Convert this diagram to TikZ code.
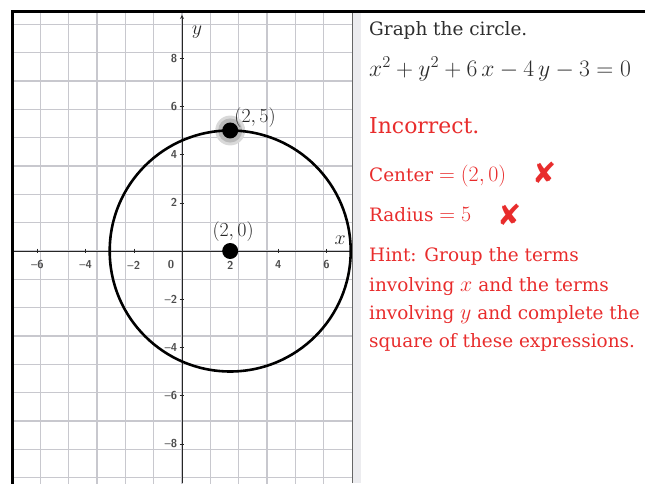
\RequirePackage{fix-cm}
\documentclass[tikz,border=0pt]{standalone}
\usepackage{fontspec}
\newfontfamily\markfont{DejaVu Sans}
\newfontfamily\panelfont{DejaVu Serif}
\usepackage{amsmath}
\newcommand\pmath[1]{{\fontsize{22}{22}\selectfont$#1$}}
\definecolor{hintred}{RGB}{232,44,44}
\definecolor{gridgray}{RGB}{200,200,206}
\definecolor{panelgray}{RGB}{236,236,239}
\definecolor{taskgray}{RGB}{45,45,45}
\tikzset{>=stealth}
\tikzset{
  gridline/.style={gridgray, line width=1.3pt},
  ticklabel/.style={font=\fontsize{11.5}{13}\sffamily\bfseries, text=black!70, inner sep=1pt},
  ptlabel/.style={font=\fontsize{20}{24}\selectfont, text=black!85, inner sep=0pt},
  dot/.style={circle, fill=black, inner sep=0pt, minimum size=16bp},
  task/.style={anchor=base west, inner sep=0pt, text=taskgray, font=\panelfont\fontsize{18.5}{22}\selectfont},
  feedback/.style={task, text=hintred},
  cross/.style={font=\fontsize{29}{32}\markfont, text=hintred, inner sep=0pt}
}

\begin{document}
\begin{tikzpicture}[x=24.1bp,y=24.1bp]
                \useasboundingbox (-7.552,-9.627) rectangle (19.212,10.415);
                % grid panel
                \fill[panelgray] (7.05,-9.627) rectangle (7.43,9.94);
                \begin{scope}
                    \clip (-7.03,-9.627) rectangle (7.05,9.94);
                    \draw[gridline] (-7,-10) grid (7.05,10);
                \end{scope}
                \draw[thin, black!60] (7.05,-9.627) -- (7.05,9.94);
                % axes
                \draw[black!85, line width=0.9pt] (-7.03,0) -- (7.05,0);
                \draw[->, black!85, line width=0.9pt] (0,-9.627) -- (0,9.8);
                \foreach \x/\lab in {-6/\textendash6,-4/\textendash4,-2/\textendash2,2/2,4/4,6/6}
                    \draw[black!85] (\x,0.1) -- (\x,-0.1)
                        node[ticklabel] (xt\x) at (\x,-0.58) {\lab};
                \foreach \y/\lab in {-8/\textendash8,-6/\textendash6,-4/\textendash4,-2/\textendash2,2/2,4/4,6/6,8/8}
                    \draw[black!85] (-0.1,\y) -- (0.1,\y)
                        node[ticklabel, anchor=east] (yt\y) at (-0.15,\y) {\lab};
                \node[ticklabel] (zero) at (-0.46,-0.58) {0};
                \node[ptlabel] (xlab) at (6.56,0.46) {$x$};
                \node[ptlabel] (ylab) at (0.62,9.09) {$y$};
                % the circle and its points
                \fill[gray!30] (2,5) circle (0.62);
                \fill[gray!55] (2,5) circle (0.5);
                \draw[line width=2.6pt] (2,0) circle (5);
                \node[dot] (top) at (2,5) {};
                \node[dot] (center) at (2,0) {};
                \node[ptlabel] (toplab) at (3.03,5.52) {$(2,5)$};
                \node[ptlabel] (centerlab) at (2.12,0.79) {$(2,0)$};
                % frame
                \draw[line width=2.6pt] (-7.03,-9.8) -- (-7.03,9.94) -- (19.4,9.94);
                % task and feedback
                \node[task] (task) at (7.76,8.95) {Graph the circle.};
                \node[task, font=\fontsize{23.7}{28}\selectfont] (eqn) at (7.76,7.24) {$x^2+y^2+6\,x-4\,y-3=0$};
                \node[feedback, font=\panelfont\fontsize{22}{26}\selectfont] (verdict) at (7.76,4.88) {Incorrect.};
                \node[feedback] (centerfb) at (7.76,2.90) {Center \pmath{=(2,0)}};
                \node[feedback] (radiusfb) at (7.76,1.21) {Radius \pmath{=5}};
                \node[cross] (cross1) at (15.06,3.24) {✘};
                \node[cross] (cross2) at (13.61,1.49) {✘};
                \node[feedback] (hint1) at (7.76,-0.44) {Hint: Group the terms};
                \node[feedback] (hint2) at (7.76,-1.66) {involving \pmath{x} and the terms};
                \node[feedback] (hint3) at (7.76,-2.83) {involving \pmath{y} and complete the};
                \node[feedback] (hint4) at (7.76,-4.00) {square of these expressions.};
    \end{tikzpicture}
\end{document}
